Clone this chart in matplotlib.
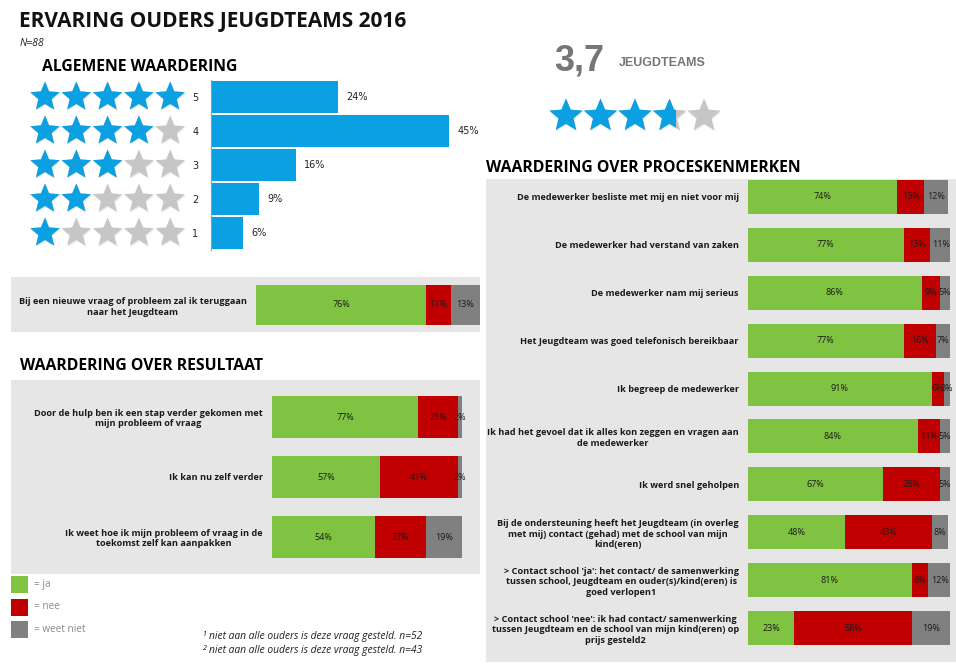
import numpy as np
import matplotlib.pyplot as plt
from matplotlib.patches import Polygon, Rectangle

W, H = 956, 664
plt.rcParams['font.family'] = ['Open Sans', 'DejaVu Sans']

# ---- data ----
rating_levels = [5, 4, 3, 2, 1]
rating_pct = [24, 45, 16, 9, 6]
avg_score = 3.7

terug_labels = ["Bij een nieuwe vraag of probleem zal ik teruggaan\nnaar het Jeugdteam"]
terug_ja = [76]
terug_nee = [11]
terug_weet = [13]

resultaat_labels = [
    "Door de hulp ben ik een stap verder gekomen met\nmijn probleem of vraag",
    "Ik kan nu zelf verder",
    "Ik weet hoe ik mijn probleem of vraag in de\ntoekomst zelf kan aanpakken",
]
resultaat_ja = [77, 57, 54]
resultaat_nee = [21, 41, 27]
resultaat_weet = [2, 2, 19]

proces_labels = [
    "De medewerker besliste met mij en niet voor mij",
    "De medewerker had verstand van zaken",
    "De medewerker nam mij serieus",
    "Het Jeugdteam was goed telefonisch bereikbaar",
    "Ik begreep de medewerker",
    "Ik had het gevoel dat ik alles kon zeggen en vragen aan\nde medewerker",
    "Ik werd snel geholpen",
    "Bij de ondersteuning heeft het Jeugdteam (in overleg\nmet mij) contact (gehad) met de school van mijn\nkind(eren)",
    "> Contact school 'ja': het contact/ de samenwerking\ntussen school, Jeugdteam en ouder(s)/kind(eren) is\ngoed verlopen1",
    "> Contact school 'nee': ik had contact/ samenwerking\ntussen Jeugdteam en de school van mijn kind(eren) op\nprijs gesteld2",
]
proces_ja = [74, 77, 86, 77, 91, 84, 67, 48, 81, 23]
proces_nee = [13, 13, 9, 16, 6, 11, 28, 43, 8, 58]
proces_weet = [12, 11, 5, 7, 3, 5, 5, 8, 12, 19]

legend_names = ["= ja", "= nee", "= weet niet"]
seg_colors = ["#80c342", "#c00000", "#808080"]
blue = "#0aa0e2"
star_grey = "#c6c6c6"
panel_grey = "#e6e6e6"

fig = plt.figure(figsize=(W / 100, H / 100), dpi=100)


def px_axes(x, y, w, h):
    ax = fig.add_axes([x / W, 1 - (y + h) / H, w / W, h / H])
    ax.patch.set_alpha(0)
    return ax


def star(ax, cx, cy, r, fill):
    ang = np.pi / 2 + np.arange(10) * np.pi / 5
    rad = np.where(np.arange(10) % 2 == 0, r, r * 0.45)
    pts = np.column_stack([cx + rad * np.cos(ang), cy - rad * np.sin(ang)])
    # soft shadow
    ax.add_patch(Polygon(pts + [0.8, 1.3], closed=True, color="#ececec", lw=0))
    ax.add_patch(Polygon(pts, closed=True, color=star_grey, lw=0))
    if fill > 0:
        p = Polygon(pts, closed=True, color=blue, lw=0)
        ax.add_patch(p)
        if fill < 1:
            w = 2 * r * np.cos(np.deg2rad(18))
            clip = Rectangle((cx - w / 2, cy - r), w * fill, 2 * r, transform=ax.transData)
            p.set_clip_path(clip)


def stacked(ax, labels, ja, nee, weet, bar_h):
    y = np.arange(len(labels))
    left = np.zeros(len(labels))
    for vals, col in zip([ja, nee, weet], seg_colors):
        vals = np.array(vals)
        ax.barh(y, vals, left=left, height=bar_h, color=col, lw=0)
        for yy, l, v in zip(y, left, vals):
            ax.text(l + v / 2, yy, f"{v}%", ha="center", va="center",
                    fontsize=6.5, color="#1a1a1a")
        left += vals
    ax.set_xlim(0, 100)
    ax.set_ylim(len(labels) - 0.5, -0.5)
    ax.set_yticks(y, labels, fontsize=6.6, fontweight="bold", multialignment="center",
                  color="#1a1a1a")
    ax.tick_params(axis="y", length=0, pad=6.5)
    ax.set_xticks([])
    for s in ax.spines.values():
        s.set_visible(False)


# ---- background overlay in pixel coordinates ----
ov = px_axes(0, 0, W, H)
ov.set_xlim(0, W)
ov.set_ylim(H, 0)
ov.axis("off")

ov.add_patch(Rectangle((11, 277), 469, 55, color=panel_grey, lw=0))
ov.add_patch(Rectangle((11, 380), 469, 194, color=panel_grey, lw=0))
ov.add_patch(Rectangle((486, 179), 470, 483, color=panel_grey, lw=0))

ov.text(19, 21, "ERVARING OUDERS JEUGDTEAMS 2016", fontsize=15, fontweight="bold",
        va="center", color="#111111")
ov.text(20, 43, "N=88", fontsize=7.5, style="italic", va="center", color="#222222")
ov.text(42, 67, "ALGEMENE WAARDERING", fontsize=11.3, fontweight="bold", va="center")
ov.text(20, 366, "WAARDERING OVER RESULTAAT", fontsize=11.3, fontweight="bold", va="center")
ov.text(486, 168, "WAARDERING OVER PROCESKENMERKEN", fontsize=11.3, fontweight="bold",
        va="center")

# star rows next to the rating bars
for i, lvl in enumerate(rating_levels):
    cy = 97 + i * 34
    for k in range(5):
        star(ov, 45 + k * 31.3, cy, 15.5, 1 if k < lvl else 0)

# average score
ov.text(554, 61, f"{avg_score:.1f}".replace(".", ","), fontsize=26, fontweight="bold",
        family="Liberation Sans", color="#767676", va="center")
ov.text(619, 63, "JEUGDTEAMS", fontsize=9, fontweight="bold", family="Liberation Sans",
        color="#767676", va="center")
for k in range(5):
    star(ov, 566 + k * 34.5, 116, 17.5, min(max(avg_score - k, 0), 1))

# legend
for i, (name, col) in enumerate(zip(legend_names, seg_colors)):
    y0 = 576 + i * 22.5
    ov.add_patch(Rectangle((11, y0), 17, 17, color=col, lw=0))
    ov.text(34, y0 + 8, name, fontsize=7.2, color="#8a8a8a", va="center")

# footnotes
for i, n in enumerate([52, 43]):
    y0 = 637 + i * 14
    ov.text(203, y0 - 3, str(i + 1), fontsize=5, style="italic", va="center")
    ov.text(209, y0, f"niet aan alle ouders is deze vraag gesteld. n={n}", fontsize=7.4,
            style="italic", va="center", color="#222222")

# ---- algemene waardering bars ----
ax = px_axes(211, 80, 250, 170)
yy = np.arange(len(rating_levels))
ax.barh(yy, rating_pct, height=0.94, color=blue, lw=0)
for i, v in enumerate(rating_pct):
    ax.annotate(f"{v}%", (v, i), xytext=(6, 0), textcoords="offset points", va="center",
                fontsize=7, family="DejaVu Sans", color="#222222")
ax.set_xlim(0, 47.3)
ax.set_ylim(len(rating_levels) - 0.5, -0.5)
ax.set_yticks(yy, [str(r) for r in rating_levels], fontsize=7, family="DejaVu Sans",
              color="#222222")
ax.tick_params(axis="y", length=0, pad=9)
ax.set_xticks([])
for s in ["top", "right", "bottom"]:
    ax.spines[s].set_visible(False)
ax.spines["left"].set_color("#9a9a9a")
ax.spines["left"].set_linewidth(0.8)

# ---- stacked bar panels ----
ax = px_axes(256, 282, 224, 46)
stacked(ax, terug_labels, terug_ja, terug_nee, terug_weet, 0.85)

ax = px_axes(272, 387, 190, 180)
stacked(ax, resultaat_labels, resultaat_ja, resultaat_nee, resultaat_weet, 0.7)

ax = px_axes(748, 173, 202, 479)
stacked(ax, proces_labels, proces_ja, proces_nee, proces_weet, 0.71)

fig.savefig("out.png", dpi=100)
